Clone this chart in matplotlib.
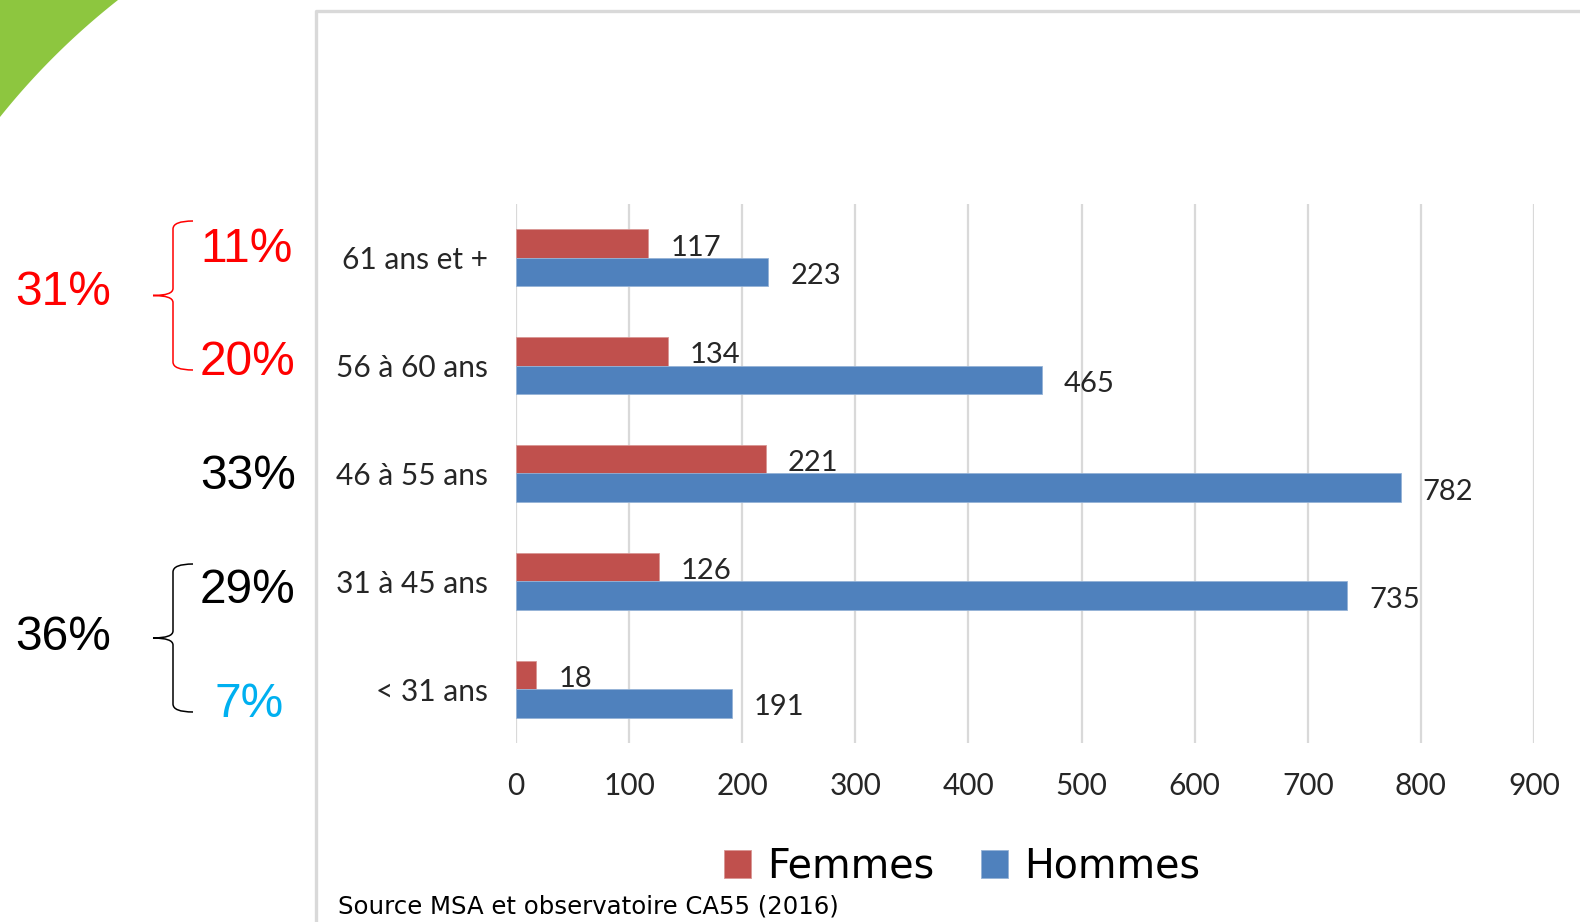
import numpy as np
import matplotlib.pyplot as plt
from matplotlib.path import Path
from matplotlib.patches import PathPatch, Polygon

# data (bottom to top)
categories = ['< 31 ans', '31 à 45 ans', '46 à 55 ans', '56 à 60 ans', '61 ans et +']
femmes = [18, 126, 221, 134, 117]
hommes = [191, 735, 782, 465, 223]
xticks = [0, 100, 200, 300, 400, 500, 600, 700, 800, 900]

# share labels on the left
pct_labels = ['11%', '20%', '33%', '29%', '7%']
pct_colors = ['#FF0000', '#FF0000', 'black', 'black', '#00B0F0']
group_labels = ['31%', '36%']
group_colors = ['#FF0000', 'black']

W, H = 1580, 922
fig = plt.figure(figsize=(W / 100, H / 100), dpi=100)


def fx(x):
    return x / W


def fy(y):
    return 1 - y / H


# axes placed in pixel space of the reference
ax = fig.add_axes([fx(516), fy(743), fx(1534) - fx(516), fy(204) - fy(743)])

red = '#C0504D'
blue = '#4F81BD'
h = 0.265
y = np.arange(len(categories))
ax.barh(y + h / 2, femmes, height=h, color=red, edgecolor='#D99694', linewidth=0.6, label='Femmes', zorder=3)
ax.barh(y - h / 2, hommes, height=h, color=blue, edgecolor='#95B3D7', linewidth=0.6, label='Hommes', zorder=3)

lab_font = dict(family=['Lato', 'DejaVu Sans'], fontsize=21, color='#262626')
for yi, v in zip(y, femmes):
    ax.annotate(str(v), (v, yi + h / 2), xytext=(22, -4), textcoords='offset pixels',
                va='center', ha='left', **lab_font)
for yi, v in zip(y, hommes):
    ax.annotate(str(v), (v, yi - h / 2), xytext=(22, -4), textcoords='offset pixels',
                va='center', ha='left', **lab_font)

ax.set_xlim(0, 900)
ax.set_ylim(-0.5, len(categories) - 0.5)
ax.set_xticks(xticks)
ax.set_yticks(y)
ax.set_yticklabels(categories)
ax.tick_params(length=0)
ax.tick_params(axis='x', pad=21)
ax.tick_params(axis='y', pad=20)
for lbl in ax.get_xticklabels() + ax.get_yticklabels():
    lbl.set_family(['Lato', 'DejaVu Sans'])
    lbl.set_fontsize(21.5)
    lbl.set_color('#262626')
ax.grid(axis='x', color='#D9D9D9', linewidth=1.6, zorder=0)
for s in ax.spines.values():
    s.set_visible(False)

# legend
fig.legend(loc='center', bbox_to_anchor=(fx(962), fy(867)), ncol=2, frameon=False,
           prop={'family': 'DejaVu Sans', 'size': 28.5}, handlelength=0.67, handleheight=0.7,
           handletextpad=0.4, columnspacing=1.2)

# source note
fig.text(fx(338), fy(906), 'Source MSA et observatoire CA55 (2016)', fontsize=17.6,
         family='DejaVu Sans', color='black', va='center', ha='left')

# chart frame (light grey)
fig.add_artist(plt.Line2D([fx(316), fx(316), fx(1585)], [fy(930), fy(11), fy(11)],
                          transform=fig.transFigure, color='#D9D9D9', linewidth=2.4))

# green corner
t = np.linspace(0, 1, 40)
p0, c, p2 = np.array([118, 0]), np.array([52, 52]), np.array([0, 117])
curve = ((1 - t)[:, None] ** 2) * p0 + (2 * (1 - t) * t)[:, None] * c + (t[:, None] ** 2) * p2
pts = [(0, 0)] + [tuple(p) for p in curve]
fig.add_artist(Polygon([(fx(px), fy(py)) for px, py in pts], closed=True,
                       transform=fig.transFigure, facecolor='#8DC63F', edgecolor='none'))

# percentages (positions are text baselines)
pct_font = dict(family=['Liberation Sans', 'DejaVu Sans'], fontsize=34.5, ha='center', va='baseline')
pct_x = [247, 248, 248, 248, 249]
pct_y = [262, 375, 489, 603, 717]
for s, col, px, py in zip(pct_labels, pct_colors, pct_x, pct_y):
    fig.text(fx(px), fy(py), s, color=col, **pct_font)
for s, col, py in zip(group_labels, group_colors, [305, 650]):
    fig.text(fx(63), fy(py), s, color=col, **pct_font)


def brace(top, bottom, color):
    mid = (top + bottom) / 2
    xr, xv, xt = 193, 173, 153
    verts = [(xr, top), (xv, top), (xv, top + 8),
             (xv, mid - 7), (xv, mid), (xt, mid),
             (xv, mid), (xv, mid + 7),
             (xv, bottom - 8), (xv, bottom), (xr, bottom)]
    codes = [Path.MOVETO, Path.CURVE3, Path.CURVE3,
             Path.LINETO, Path.CURVE3, Path.CURVE3,
             Path.CURVE3, Path.CURVE3,
             Path.LINETO, Path.CURVE3, Path.CURVE3]
    verts = [(fx(a), fy(b)) for a, b in verts]
    fig.add_artist(PathPatch(Path(verts, codes), transform=fig.transFigure,
                             facecolor='none', edgecolor=color, linewidth=1.1))


brace(221, 370, '#FF0000')
brace(564, 712, 'black')

fig.savefig('out.png', dpi=100)
